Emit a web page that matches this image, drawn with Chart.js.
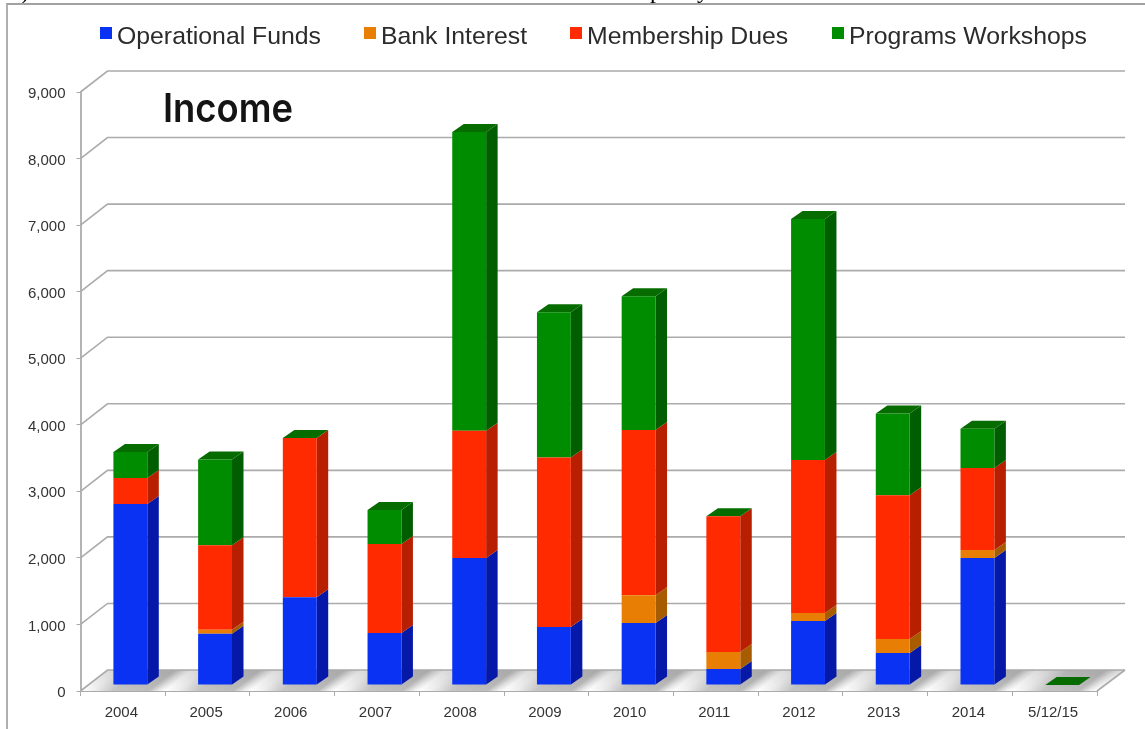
<!DOCTYPE html>
<html>
<head>
<meta charset="utf-8">
<title>Income</title>
<script src="https://cdn.jsdelivr.net/npm/chart.js@4"></script>
<style>
    html, body { margin: 0; background: #fff; overflow: hidden; }
    #marco { position: absolute; left: 6px; top: 3px; width: 1139px; height: 726px;
             border-top: 2px solid #a2a2a2; border-left: 2px solid #b0b0b0; box-sizing: border-box; pointer-events: none; }
    #grafico { position: absolute; left: 0; top: 0; }
</style>
</head>
<body>
<canvas id="grafico" width="1145" height="729"></canvas>
<div id="marco"></div>
<script>
const categories = ['2004', '2005', '2006', '2007', '2008', '2009', '2010', '2011', '2012', '2013', '2014', '5/12/15'];
const operationalFunds = [2720, 770, 1320, 780, 1910, 870, 930, 240, 960, 480, 1910, 0];
const bankInterest = [0, 60, 0, 0, 0, 0, 420, 255, 120, 210, 120, 0];
const membershipDues = [390, 1270, 2390, 1340, 1910, 2550, 2480, 2040, 2300, 2160, 1230, 0];
const programsWorkshops = [390, 1290, 0, 510, 4490, 2180, 2010, 0, 3620, 1230, 590, 0];

const colores = ['#0a32f2', '#e87e04', '#ff2a00', '#008c00'];
const coloresLado = ['#0518a8', '#a85c00', '#b81e00', '#005e00'];
const colorTapa = '#066c00';

// desplazamiento de la pared del fondo y de la profundidad de cada barra
const FONDO = { x: 27, y: 21 };
const BARRA = { dx: 7.5, dy: 6, x: 11.5, y: 8 };

const pared3d = {
    id: 'pared3d',
    beforeDatasetsDraw(chart) {
        const { ctx, chartArea: a, scales: { y } } = chart;
        const y0 = y.getPixelForValue(0);

        // suelo con reflejos diagonales, uno por categoría
        const grad = ctx.createLinearGradient(a.left, y0, a.left + 383, y0 + 492);
        const n = categories.length;
        for (let i = 0; i < n; i++) {
            grad.addColorStop(i / n, '#ffffff');
            grad.addColorStop((i + 0.14) / n, '#f2f2f2');
            grad.addColorStop((i + 0.38) / n, '#c6c6c6');
            grad.addColorStop((i + 0.8) / n, '#bcbcbc');
            grad.addColorStop((i + 0.92) / n, '#ececec');
        }
        grad.addColorStop(1, '#ffffff');
        ctx.save();
        const suelo = () => {
            ctx.beginPath();
            ctx.moveTo(a.left, y0);
            ctx.lineTo(a.right, y0);
            ctx.lineTo(a.right + FONDO.x + 1, y0 - FONDO.y);
            ctx.lineTo(a.left + FONDO.x, y0 - FONDO.y);
            ctx.closePath();
        };
        suelo();
        ctx.fillStyle = grad;
        ctx.fill();

        // más oscuro hacia el fondo
        const sombra = ctx.createLinearGradient(0, y0 - FONDO.y, 0, y0);
        sombra.addColorStop(0, 'rgba(110,110,110,0.25)');
        sombra.addColorStop(1, 'rgba(110,110,110,0)');
        suelo();
        ctx.fillStyle = sombra;
        ctx.fill();

        // líneas de la pared lateral y del fondo
        ctx.strokeStyle = '#ababab';
        ctx.lineWidth = 1.6;
        y.ticks.forEach(t => {
            const py = y.getPixelForValue(t.value);
            ctx.beginPath();
            ctx.moveTo(a.left, py);
            ctx.lineTo(a.left + FONDO.x, py - FONDO.y);
            ctx.lineTo(a.right + FONDO.x + 1, py - FONDO.y);
            ctx.stroke();
        });
        ctx.beginPath();
        ctx.moveTo(a.right, y0);
        ctx.lineTo(a.right + FONDO.x + 1, y0 - FONDO.y);
        ctx.stroke();
        ctx.restore();

        // las barras se dibujan adelantadas respecto al eje
        ctx.save();
        ctx.translate(BARRA.dx, -BARRA.dy);
        const ultimo = chart.data.datasets.length - 1;
        chart.data.datasets.forEach((ds, d) => {
            chart.getDatasetMeta(d).data.forEach(bar => {
                const { x, y: top, base, width } = bar.getProps(['x', 'y', 'base', 'width'], true);
                const der = x + width / 2;
                if (base - top > 0) {
                    ctx.fillStyle = coloresLado[d];
                    ctx.beginPath();
                    ctx.moveTo(der, top);
                    ctx.lineTo(der + BARRA.x, top - BARRA.y);
                    ctx.lineTo(der + BARRA.x, base - BARRA.y);
                    ctx.lineTo(der, base);
                    ctx.closePath();
                    ctx.fill();
                }
                if (d === ultimo) {
                    ctx.fillStyle = colorTapa;
                    ctx.beginPath();
                    ctx.moveTo(x - width / 2, top);
                    ctx.lineTo(der, top);
                    ctx.lineTo(der + BARRA.x, top - BARRA.y);
                    ctx.lineTo(x - width / 2 + BARRA.x, top - BARRA.y);
                    ctx.closePath();
                    ctx.fill();
                }
            });
        });
    },
    afterDatasetsDraw(chart) {
        chart.ctx.restore();
    }
};

// leyenda y título sobre el lienzo
const rotulos = {
    id: 'rotulos',
    afterDraw(chart) {
        const { ctx } = chart;
        const xCaja = [100, 364, 570, 832];
        ctx.save();
        ctx.font = '24.8px "Liberation Sans", Arial, sans-serif';
        ctx.textBaseline = 'alphabetic';
        chart.data.datasets.forEach((ds, i) => {
            ctx.fillStyle = ds.backgroundColor;
            ctx.fillRect(xCaja[i], 27, 12, 12);
            ctx.fillStyle = '#2b2b2b';
            ctx.fillText(ds.label, xCaja[i] + 17, 44);
        });

        // título algo estrechado
        ctx.save();
        ctx.translate(163, 122);
        ctx.scale(0.91, 1);
        ctx.font = '600 40px Inter, sans-serif';
        ctx.fillStyle = '#141414';
        ctx.fillText('Income', 0, 0);
        ctx.restore();

        // restos de la línea de texto que queda por encima del marco
        ctx.font = '24px "Liberation Serif", serif';
        ctx.fillStyle = '#000';
        ctx.fillText(')', 21, -1);
        ctx.fillText('p', 650, -2);
        ctx.fillText('y', 697, -2);
        ctx.restore();
    }
};

const grafico = new Chart(document.getElementById('grafico').getContext('2d'), {
    type: 'bar',
    data: {
        labels: categories,
        datasets: [
            { label: 'Operational Funds', data: operationalFunds, backgroundColor: colores[0] },
            { label: 'Bank Interest', data: bankInterest, backgroundColor: colores[1] },
            { label: 'Membership Dues', data: membershipDues, backgroundColor: colores[2] },
            { label: 'Programs Workshops', data: programsWorkshops, backgroundColor: colores[3] }
        ]
    },
    plugins: [pared3d, rotulos],
    options: {
        responsive: false,
        animation: false,
        layout: { padding: { top: 92, right: 48, bottom: 0, left: 0 } },
        datasets: { bar: { barPercentage: 0.4, categoryPercentage: 1, clip: false } },
        plugins: { legend: { display: false }, tooltip: { enabled: false } },
        scales: {
            x: {
                stacked: true,
                afterFit(s) { s.height = 38; },
                border: { color: '#ababab', width: 2 },
                grid: { offset: true, drawOnChartArea: false, color: '#ababab', tickLength: 5 },
                ticks: { color: '#333', padding: 8, labelOffset: -1.5, maxRotation: 0, font: { family: '"Liberation Sans", Arial', size: 15 } }
            },
            y: {
                stacked: true,
                min: 0,
                max: 9000,
                afterFit(s) { s.width = 80.5; },
                border: { color: '#b4b4b4', width: 2 },
                grid: { drawOnChartArea: false, color: '#ababab', tickLength: 4 },
                ticks: {
                    stepSize: 1000,
                    color: '#333',
                    padding: 11,
                    labelOffset: 2,
                    font: { family: '"Liberation Sans", Arial', size: 15 },
                    callback: v => v.toLocaleString('en-US')
                }
            }
        }
    }
});
</script>
</body>
</html>
